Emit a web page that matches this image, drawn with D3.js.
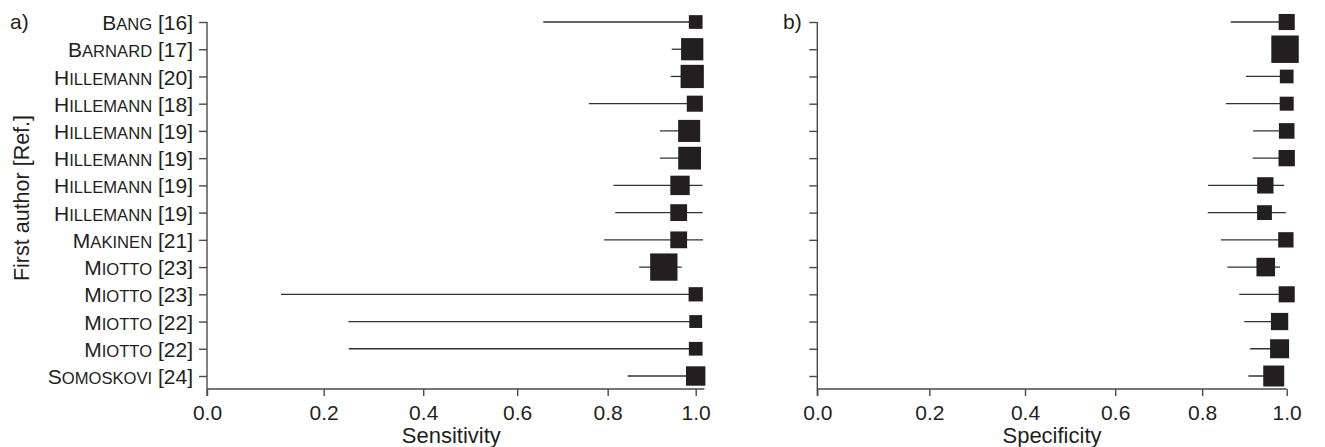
<!DOCTYPE html>
<html>
<head>
<meta charset="utf-8">
<script src="https://cdn.jsdelivr.net/npm/d3@7"></script>
<style>
  body { margin: 0; background: #fff; }
  svg { font-family: "Liberation Sans", Arial, sans-serif; }
  .axis path, .axis line { stroke: #4a4a4a; stroke-width: 1.4; }
  .axis text { fill: #231f20; font-size: 21px; }
</style>
</head>
<body>
<svg id="chart" width="1325" height="447"></svg>
<script>
// study list (first author, reference number)
const authors = ["Bang", "Barnard", "Hillemann", "Hillemann", "Hillemann", "Hillemann", "Hillemann",
  "Hillemann", "Makinen", "Miotto", "Miotto", "Miotto", "Miotto", "Somoskovi"];
const refs = [16, 17, 20, 18, 19, 19, 19, 19, 21, 23, 23, 22, 22, 24];

// sensitivity with 95% CI and study weight
const sens   = [1.000, 0.992, 0.992, 0.998, 0.985, 0.986, 0.964, 0.961, 0.961, 0.927, 1.000, 1.000, 1.000, 1.000];
const sensLo = [0.657, 0.945, 0.943, 0.758, 0.918, 0.918, 0.813, 0.817, 0.792, 0.871, 0.120, 0.248, 0.249, 0.845];
const sensHi = [1.000, 1.000, 1.000, 1.000, 1.000, 1.000, 1.016, 1.016, 1.017, 0.968, 1.000, 1.000, 1.000, 1.000];
const sensW  = [24, 63, 69, 33, 62, 66, 48, 36, 36, 95, 26, 21, 24, 48];

// specificity with 95% CI and study weight
const spec   = [1.000, 0.996, 1.000, 1.000, 1.000, 1.000, 0.949, 0.947, 0.998, 0.950, 1.000, 0.983, 0.983, 0.969];
const specLo = [0.867, 0.975, 0.903, 0.856, 0.920, 0.919, 0.814, 0.813, 0.844, 0.859, 0.887, 0.899, 0.913, 0.909];
const specHi = [1.000, 1.000, 1.000, 1.000, 1.000, 1.000, 0.994, 0.998, 1.000, 0.984, 1.000, 1.000, 1.000, 0.985];
const specW  = [33, 96, 24, 25, 31, 34, 34, 28, 30, 44, 33, 38, 46, 56];

const xTicks = [0, 0.2, 0.4, 0.6, 0.8, 1.0];

const svg = d3.select("#chart");
const yTop = 22, lastRow = 376, yBottom = 389;

const y = d3.scalePoint()
  .domain(d3.range(authors.length))
  .range([yTop, lastRow]);

const size = d3.scaleSqrt().domain([0, 100]).range([0, 28]);

function panel(opts) {
  const x = d3.scalePow().exponent(0.89).domain([0, 1]).range([opts.x0, opts.x1]);
  const g = svg.append("g");

  // y axis
  const ya = g.append("g").attr("class", "axis")
    .attr("transform", `translate(${opts.x0},0)`)
    .call(d3.axisLeft(y).tickSize(8).tickSizeOuter(0).tickPadding(6)
      .tickFormat(() => ""));
  ya.select(".domain").remove();
  g.append("line")
    .attr("x1", opts.x0).attr("x2", opts.x0)
    .attr("y1", yTop).attr("y2", yBottom + 7)
    .attr("stroke", "#4a4a4a").attr("stroke-width", 1.4);

  // x axis
  const xa = g.append("g").attr("class", "axis")
    .attr("transform", `translate(0,${yBottom})`)
    .call(d3.axisBottom(x).tickValues(xTicks).tickSize(7).tickSizeOuter(0).tickPadding(9)
      .tickFormat(d3.format(".1f")));
  xa.select(".domain").remove();
  g.append("line")
    .attr("x1", opts.x0).attr("x2", x(opts.xEnd))
    .attr("y1", yBottom).attr("y2", yBottom)
    .attr("stroke", "#4a4a4a").attr("stroke-width", 1.4);

  g.append("text")
    .attr("x", (opts.x0 + opts.x1) / 2).attr("y", 443)
    .attr("text-anchor", "middle")
    .attr("font-size", 22).attr("fill", "#231f20")
    .text(opts.title);

  g.append("text")
    .attr("x", opts.tagX).attr("y", 29)
    .attr("font-size", 21).attr("fill", "#231f20")
    .text(opts.tag);

  const rows = d3.range(authors.length);

  g.selectAll(".ci").data(rows).join("line")
    .attr("class", "ci")
    .attr("x1", i => x(opts.lo[i])).attr("x2", i => x(opts.hi[i]))
    .attr("y1", i => y(i)).attr("y2", i => y(i))
    .attr("stroke", "#333").attr("stroke-width", 1.3);

  g.selectAll(".box").data(rows).join("rect")
    .attr("class", "box")
    .attr("x", i => x(opts.est[i]) - size(opts.w[i]) / 2)
    .attr("y", i => y(i) - size(opts.w[i]) / 2)
    .attr("width", i => size(opts.w[i]))
    .attr("height", i => size(opts.w[i]))
    .attr("fill", "#231f20");

  return ya;
}

const left = panel({x0: 207, x1: 695.7, xEnd: 1.02, est: sens, lo: sensLo, hi: sensHi, w: sensW,
  title: "Sensitivity", tag: "a)", tagX: 10});
panel({x0: 817.3, x1: 1286.7, xEnd: 1.0, est: spec, lo: specLo, hi: specHi, w: specW,
  title: "Specificity", tag: "b)", tagX: 783});

// study labels in small caps
left.selectAll(".tick text").each(function (i) {
  const t = d3.select(this).text(null).attr("dy", "0.36em");
  const name = authors[i];
  t.append("tspan").text(name[0]);
  t.append("tspan").attr("font-size", 16.6).text(name.slice(1).toUpperCase());
  t.append("tspan").text(` [${refs[i]}]`);
});

svg.append("text")
  .attr("transform", "translate(29,198) rotate(-90)")
  .attr("text-anchor", "middle")
  .attr("font-size", 21.5).attr("fill", "#231f20")
  .text("First author [Ref.]");
</script>
</body>
</html>
